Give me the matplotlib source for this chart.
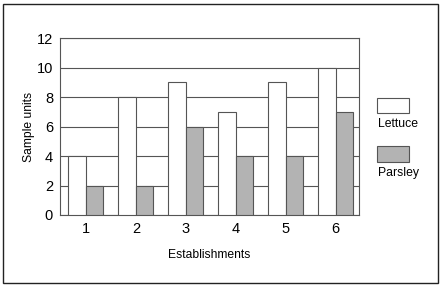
import numpy as np
import matplotlib.pyplot as plt
from matplotlib.patches import Rectangle

plt.rcParams['font.family'] = ['Liberation Sans', 'DejaVu Sans']

# Data
establishments = [1, 2, 3, 4, 5, 6]
lettuce = [4, 8, 9, 7, 9, 10]
parsley = [2, 2, 6, 4, 4, 7]
y_ticks = [0, 2, 4, 6, 8, 10, 12]

EDGE = '#555555'
GREY = '#b3b3b3'

fig = plt.figure(figsize=(4.42, 2.86), dpi=100)
fig.patches.append(Rectangle((3/442, 3/286), 435/442, 279/286, transform=fig.transFigure,
                             fill=False, edgecolor='#222222', linewidth=1.0))

ax = fig.add_axes([60/442, 1 - 215/286, 299/442, 177/286])
x = np.array(establishments)
w = 0.35
ax.bar(x - w/2, lettuce, w, color='white', edgecolor=EDGE, linewidth=0.8, zorder=3)
ax.bar(x + w/2, parsley, w, color=GREY, edgecolor=EDGE, linewidth=0.8, zorder=3)

ax.set_xlim(0.48, 6.47)
ax.set_ylim(0, 12)
ax.set_yticks(y_ticks)
ax.set_xticks(establishments)
ax.tick_params(axis='both', length=0, labelsize=10.5, pad=5)
ax.yaxis.grid(True, color=EDGE, linewidth=0.8, zorder=0)
for s in ax.spines.values():
    s.set_color(EDGE)
    s.set_linewidth(0.8)

ax.set_xlabel('Establishments', fontsize=8.7, labelpad=9.5)
ax.set_ylabel('Sample units', fontsize=8.7, labelpad=1)

# legend drawn by hand on the right
fig.patches.append(Rectangle((377/442, 1 - 113/286), 32/442, 15/286, transform=fig.transFigure,
                             facecolor='white', edgecolor=EDGE, linewidth=0.8))
fig.text(378/442, 1 - 124/286, 'Lettuce', fontsize=8.8, va='center', ha='left')
fig.patches.append(Rectangle((377/442, 1 - 162/286), 32/442, 16/286, transform=fig.transFigure,
                             facecolor=GREY, edgecolor=EDGE, linewidth=0.8))
fig.text(378/442, 1 - 173/286, 'Parsley', fontsize=8.8, va='center', ha='left')

plt.savefig('out.png', dpi=100)
